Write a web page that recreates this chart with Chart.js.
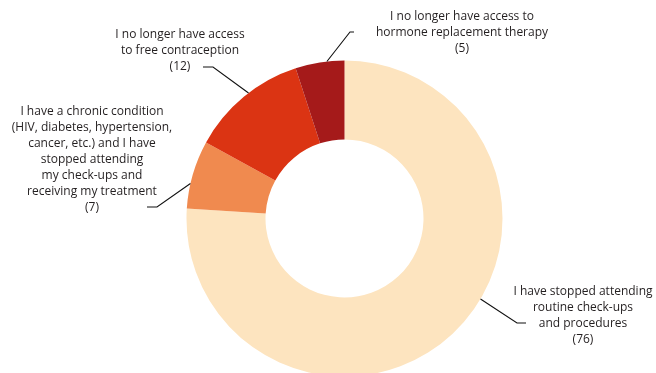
<!DOCTYPE html>
<html>
<head>
<meta charset="utf-8">
<script src="https://cdn.jsdelivr.net/npm/chart.js@4"></script>
<style>
  html, body { margin: 0; padding: 0; background: #fff; }
  #wrap { width: 656px; height: 373px; position: relative; }
</style>
</head>
<body>
<div id="wrap"><canvas id="donut" width="656" height="373"></canvas></div>
<script>
// data
const categories = [
  ["I have stopped attending", "routine check-ups", "and procedures"],
  ["I have a chronic condition", "(HIV, diabetes, hypertension,", "cancer, etc.) and I have", "stopped attending", "my check-ups and", "receiving my treatment"],
  ["I no longer have access", "to free contraception"],
  ["I no longer have access to", "hormone replacement therapy"]
];
const counts = [76, 7, 12, 5];
const colors = ["#fde4bf", "#f08a4f", "#db3413", "#a51a1a"];

// label placement: angle on the ring (deg clockwise from top), elbow, end of leader, text centre / first line
const labelLayout = [
  { angle: 120.6, elbow: [517, 323], end: [526, 323], tx: 583, ty: 292 },
  { angle: 282.8, elbow: [157, 207], end: [147, 207], tx: 92, ty: 112 },
  { angle: 322.6, elbow: [213, 67], end: [203, 67], tx: 180, ty: 35 },
  { angle: 353.6, elbow: [350, 32], end: [354, 32], tx: 462, ty: 17 }
];

const calloutPlugin = {
  id: "callouts",
  afterDraw(chart) {
    const ctx = chart.ctx;
    const arc = chart.getDatasetMeta(0).data[0];
    const cx = arc.x, cy = arc.y, r = arc.outerRadius;
    ctx.save();
    ctx.strokeStyle = "#111";
    ctx.lineWidth = 1.1;
    ctx.fillStyle = "#231f20";
    ctx.font = "12px 'Open Sans'";
    ctx.textAlign = "center";
    ctx.textBaseline = "middle";
    labelLayout.forEach((l, i) => {
      const a = l.angle * Math.PI / 180;
      const sx = cx + r * Math.sin(a);
      const sy = cy - r * Math.cos(a);
      ctx.beginPath();
      ctx.moveTo(sx, sy);
      ctx.lineTo(l.elbow[0], l.elbow[1]);
      ctx.lineTo(l.end[0], l.end[1]);
      ctx.stroke();
      const lines = categories[i].concat("(" + counts[i] + ")");
      lines.forEach((t, j) => ctx.fillText(t, l.tx, l.ty + j * 16));
    });
    ctx.restore();
  }
};

new Chart(document.getElementById("donut"), {
  type: "doughnut",
  data: {
    labels: categories.map(c => c.join(" ")),
    datasets: [{
      data: counts,
      backgroundColor: colors,
      borderWidth: 0,
      radius: 158,
      cutout: "50%"
    }]
  },
  options: {
    responsive: false,
    animation: false,
    layout: { padding: { left: 186.5, right: 153.5, top: 64, bottom: 0 } },
    plugins: {
      legend: { display: false },
      tooltip: { enabled: false }
    }
  },
  plugins: [calloutPlugin]
});
</script>
</body>
</html>
